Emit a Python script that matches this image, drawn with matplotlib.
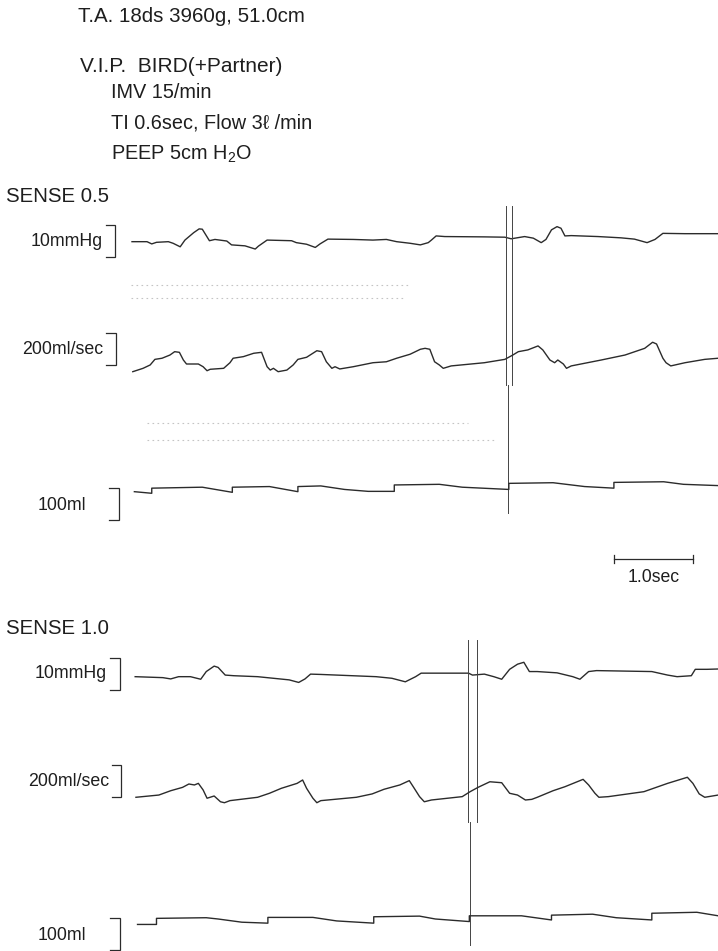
import matplotlib.pyplot as plt
import matplotlib.transforms as mtransforms

# ---- recorded traces (time in sec, values in channel units) ----
# SENSE 0.5
p1_t = [0.00, 0.19, 0.25, 0.31, 0.46, 0.52, 0.61, 0.67, 0.78, 0.85, 0.89, 0.98, 1.05, 1.20, 1.26,
        1.43, 1.56, 1.60, 1.71, 2.02, 2.08, 2.21, 2.32, 2.38, 2.48, 2.80, 3.05, 3.22, 3.35, 3.52,
        3.65, 3.75, 3.79, 3.85, 3.96, 4.46, 4.72, 4.80, 4.97, 5.08, 5.18, 5.24, 5.31, 5.38, 5.43,
        5.48, 5.56, 5.90, 6.19, 6.36, 6.52, 6.62, 6.72, 7.00, 7.42]
p1_v = [2.6, 2.6, 1.9, 2.4, 2.6, 2.1, 1.0, 3.1, 5.4, 6.6, 6.5, 2.9, 3.3, 2.8, 1.6,
        1.3, 0.3, 1.2, 3.1, 2.9, 2.3, 1.8, 0.8, 1.9, 3.4, 3.3, 3.1, 3.3, 2.6, 2.1,
        1.6, 2.3, 3.1, 4.4, 4.2, 4.1, 4.0, 3.5, 4.2, 3.7, 2.3, 3.3, 6.3, 7.3, 6.8,
        4.4, 4.5, 4.2, 3.8, 3.4, 2.3, 3.3, 5.2, 5.1, 5.1]

f1_t = [0.01, 0.14, 0.23, 0.29, 0.38, 0.48, 0.54, 0.60, 0.65, 0.69, 0.84, 0.90, 0.95, 0.99, 1.16,
        1.24, 1.28, 1.41, 1.54, 1.64, 1.71, 1.75, 1.79, 1.85, 1.96, 2.04, 2.10, 2.21, 2.34, 2.40,
        2.46, 2.53, 2.57, 2.63, 2.80, 3.05, 3.22, 3.35, 3.52, 3.65, 3.71, 3.77, 3.83, 3.89, 3.94,
        4.04, 4.46, 4.72, 4.82, 4.89, 5.01, 5.14, 5.20, 5.29, 5.35, 5.39, 5.46, 5.50, 5.56, 5.94,
        6.24, 6.49, 6.59, 6.64, 6.72, 6.76, 6.82, 7.00, 7.25, 7.42]
f1_v = [52, 73, 94, 129, 136, 156, 177, 173, 125, 100, 100, 83, 58, 67, 73,
        108, 136, 146, 167, 173, 83, 62, 73, 52, 62, 94, 129, 142, 183, 177,
        114, 73, 83, 69, 83, 108, 114, 136, 161, 192, 198, 192, 114, 94, 73,
        88, 108, 129, 156, 177, 188, 213, 188, 125, 108, 125, 100, 73, 88, 125,
        156, 198, 236, 225, 136, 108, 88, 108, 129, 136]

v1_t = [0.03, 0.25, 0.25, 0.89, 1.27, 1.27, 1.74, 2.10, 2.10, 2.39, 2.69, 2.99, 3.32, 3.32, 3.89,
        4.18, 4.77, 4.77, 5.33, 5.73, 6.10, 6.10, 6.73, 6.98, 7.42]
v1_v = [26, 21, 37, 40, 24, 40, 42, 26, 42, 44, 33, 27, 27, 47, 49,
        40, 33, 52, 54, 42, 37, 55, 57, 49, 45]

# SENSE 1.0
p2_t = [0.04, 0.39, 0.49, 0.59, 0.74, 0.87, 0.94, 1.04, 1.09, 1.18, 1.29, 1.59, 1.79, 1.99, 2.11,
        2.19, 2.26, 2.39, 3.09, 3.29, 3.46, 3.59, 3.66, 4.08, 4.26, 4.31, 4.46, 4.58, 4.68, 4.78,
        4.88, 4.96, 5.03, 5.13, 5.38, 5.58, 5.67, 5.78, 5.88, 6.58, 6.78, 6.90, 7.08, 7.13, 7.28, 7.42]
p2_v = [2.6, 2.3, 1.9, 2.6, 2.6, 1.8, 4.2, 5.9, 5.5, 3.1, 2.9, 2.6, 2.1, 1.6, 0.8,
        1.9, 3.4, 3.3, 2.6, 2.1, 1.0, 2.6, 3.7, 3.7, 3.7, 3.1, 3.4, 2.6, 1.8, 4.9,
        6.5, 7.1, 4.2, 4.2, 3.8, 2.6, 1.8, 4.2, 4.5, 4.2, 3.1, 2.6, 2.9, 4.9, 4.9, 5.0]

f2_t = [0.05, 0.34, 0.49, 0.64, 0.72, 0.79, 0.84, 0.90, 0.95, 1.04, 1.12, 1.17, 1.24, 1.59, 1.74,
        1.89, 2.09, 2.16, 2.21, 2.29, 2.34, 2.39, 2.84, 3.04, 3.19, 3.39, 3.51, 3.56, 3.64, 3.70,
        3.79, 4.18, 4.28, 4.38, 4.53, 4.68, 4.78, 4.88, 4.98, 5.06, 5.13, 5.33, 5.48, 5.71, 5.78,
        5.86, 5.91, 6.03, 6.48, 6.78, 7.03, 7.10, 7.18, 7.25, 7.42]
f2_v = [142, 156, 183, 204, 225, 219, 229, 188, 136, 150, 114, 108, 121, 142, 167,
        198, 229, 250, 198, 136, 108, 121, 142, 163, 192, 219, 246, 208, 146, 114,
        125, 146, 177, 204, 239, 233, 167, 156, 125, 129, 142, 183, 208, 254, 219,
        167, 142, 146, 177, 229, 267, 229, 163, 142, 156]

v2_t = [0.07, 0.31, 0.31, 0.94, 1.09, 1.39, 1.72, 1.72, 2.29, 2.59, 3.06, 3.06, 3.64, 3.84, 4.27,
        4.27, 4.93, 5.31, 5.31, 5.83, 6.13, 6.58, 6.58, 7.15, 7.42]
v2_v = [33, 33, 52, 54, 50, 40, 37, 55, 55, 44, 37, 57, 59, 50, 42,
        60, 60, 47, 62, 65, 54, 47, 68, 71, 60]

# calibration marks and event markers
scale_labels = ["10mmHg", "200ml/sec", "100ml"]
scale_sizes = [10, 200, 100]
marker1_double = [4.73, 4.81]
marker1_single = 4.76
marker2_double = [4.25, 4.37]
marker2_single = 4.28
timebar = [6.10, 7.10]

header = ["T.A. 18ds 3960g, 51.0cm", "V.I.P.  BIRD(+Partner)", "IMV 15/min",
          "TI 0.6sec, Flow 3ℓ /min", "PEEP 5cm H$_{2}$O"]

plt.rcParams['font.family'] = ['Liberation Sans', 'DejaVu Sans']
plt.rcParams['mathtext.fontset'] = 'custom'
plt.rcParams['mathtext.rm'] = 'Liberation Sans'
plt.rcParams['mathtext.it'] = 'Liberation Sans:italic'

W, H = 718, 951
T0, PXS = 132, 79   # trace start (px) and px per second
INK = '#2b2b2b'
TXT = '#1e1e1e'

fig = plt.figure(figsize=(W / 100, H / 100), dpi=100)
base = fig.add_axes([0, 0, 1, 1])
base.set_xlim(0, W)
base.set_ylim(H, 0)
base.axis('off')


def channel(ref_px, px_per_unit):
    ax = fig.add_axes([0, 0, 1, 1])
    ax.set_xlim(-T0 / PXS, (W - T0) / PXS)
    ax.set_ylim((ref_px - H) / px_per_unit, ref_px / px_per_unit)
    ax.axis('off')
    return ax


def bracket(ax, x_right, x_left, lo, size):
    tr = mtransforms.blended_transform_factory(base.transData, ax.transData)
    ax.plot([x_left, x_right, x_right, x_left], [lo, lo, lo + size, lo + size],
            color=INK, lw=0.9, transform=tr, solid_joinstyle='miter')


# header text
base.text(78, 16, header[0], fontsize=14.8, va='center', color=TXT)
base.text(80, 66, header[1], fontsize=15, va='center', color=TXT)
base.text(111, 93, header[2], fontsize=14.3, va='center', color=TXT)
base.text(111, 123, header[3], fontsize=14.3, va='center', color=TXT)
base.text(111, 154, header[4], fontsize=14.3, va='center', color=TXT)

sections = [
    dict(title="SENSE 0.5", ty=196,
         traces=[(p1_t, p1_v, 250, 3.2, -2.2, 106, 115, 241),
                 (f1_t, f1_v, 380, 0.16, 94, 106, 116, 349),
                 (v1_t, v1_v, 500, 0.32, -62.5, 109, 119, 505)],
         dbl=marker1_double, sgl=marker1_single, span=(206, 385, 513)),
    dict(title="SENSE 1.0", ty=629,
         traces=[(p2_t, p2_v, 685, 3.2, -1.6, 110, 120, 674),
                 (f2_t, f2_v, 820, 0.16, 144, 112, 121, 782),
                 (v2_t, v2_v, 935, 0.32, -47, 110, 120, 935)],
         dbl=marker2_double, sgl=marker2_single, span=(640, 822, 945)),
]

ax_t = None
for sec in sections:
    base.text(6, sec['ty'], sec['title'], fontsize=14.7, va='center', color=TXT)
    axes = []
    for i, (t, v, ref, ppu, lo, xl, xr, ly) in enumerate(sec['traces']):
        ax = channel(ref, ppu)
        ax.plot(t, v, color=INK, lw=1.0, solid_joinstyle='round')
        bracket(ax, xr, xl, lo, scale_sizes[i])
        if i == 2:
            base.text(38, ly, scale_labels[i], fontsize=12.8, va='center', color=TXT)
        else:
            base.text(xl - 3, ly, scale_labels[i], fontsize=12.8, va='center', ha='right', color=TXT)
        axes.append(ax)
    if ax_t is None:
        ax_t = axes[2]
    tr = mtransforms.blended_transform_factory(axes[0].transData, base.transData)
    y0, y1, y2 = sec['span']
    for m in sec['dbl']:
        axes[0].plot([m, m], [y0, y1], color='#444', lw=0.7, transform=tr)
    axes[0].plot([sec['sgl'], sec['sgl']], [y1, y2], color='#444', lw=0.7, transform=tr)

# faint dotted artefacts between traces
for y, x0, x1 in [(285, 131, 411), (298, 131, 403), (423, 147, 468), (440, 147, 494)]:
    base.plot([x0, x1], [y, y], color='#c4c4c4', lw=0.8, ls=(0, (1.5, 3)))

# time calibration bar
tb = mtransforms.blended_transform_factory(ax_t.transData, base.transData)
ax_t.plot(timebar, [559, 559], color=INK, lw=0.9, transform=tb)
for x in timebar:
    ax_t.plot([x, x], [555, 563], color=INK, lw=0.9, transform=tb)
base.text(654, 577, "1.0sec", fontsize=12.7, ha='center', va='center', color=TXT)

fig.savefig('out.png', dpi=100, facecolor='white')
